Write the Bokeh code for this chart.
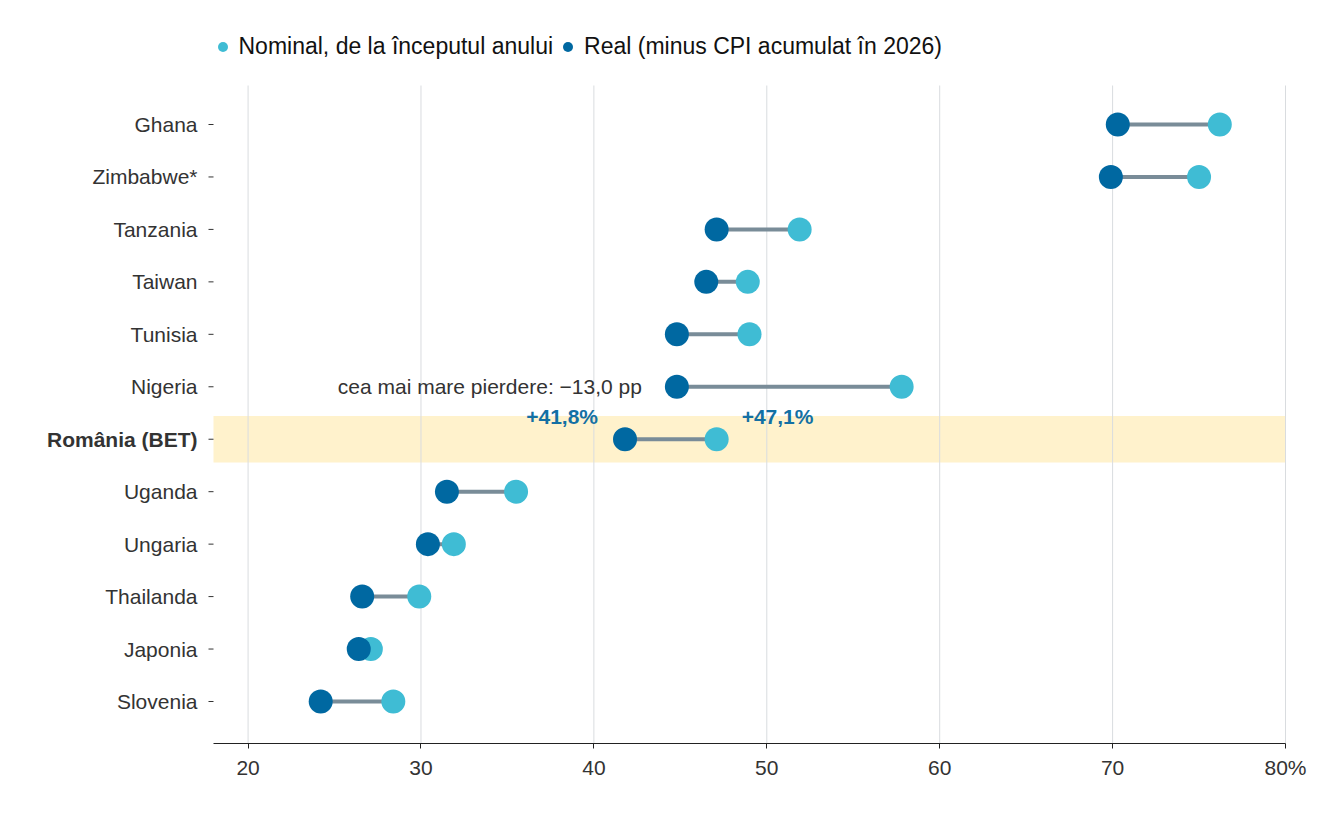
from bokeh.plotting import figure
from bokeh.models import ColumnDataSource, Legend, LegendItem, BoxAnnotation, Label, FixedTicker
from bokeh.core.properties import value
from bokeh.embed import file_html
from bokeh.resources import INLINE

countries = ["Ghana", "Zimbabwe*", "Tanzania", "Taiwan", "Tunisia", "Nigeria",
             "România (BET)", "Uganda", "Ungaria", "Thailanda", "Japonia", "Slovenia"]
nominal = [76.2, 75.0, 51.9, 48.9, 49.0, 57.8, 47.1, 35.5, 31.9, 29.9, 27.1, 28.4]
real = [70.3, 69.9, 47.1, 46.5, 44.8, 44.8, 41.8, 31.5, 30.4, 26.6, 26.4, 24.2]
x_ticks = [20, 30, 40, 50, 60, 70, 80]
highlight = "România (BET)"
loss_country = "Nigeria"
loss_label = "cea mai mare pierdere: −13,0 pp"
legend_labels = ["Nominal, de la începutul anului", "Real (minus CPI acumulat în 2026)"]

FONT = "Liberation Sans"
C_NOM = "#3fbcd4"
C_REAL = "#0068a1"
C_SEG = "#798c98"
C_TXT = "#333333"
C_PCT = "#1370a4"

W, H = 1317, 800
# layout (pixels in the figure)
FR_L, FR_R, FR_T, FR_B = 213, 1285, 85, 743   # visible plot area
XMIN, XMAX = 18, 80
n = len(countries)
ROW_PX = (701 - 124) / (n - 1)
PXU = (FR_R - FR_L) / (XMAX - XMIN)           # px per x unit
ypos = [n - 1 - i for i in range(n)]
y_lo = -(FR_B - 701) / ROW_PX
y_top_vis = (n - 1) + (124 - FR_T) / ROW_PX
y_hi = (n - 1) + 124 / ROW_PX
x_lo = XMIN - FR_L / PXU
x_hi = XMAX + (W - FR_R) / PXU

src = ColumnDataSource(dict(country=countries, nominal=nominal, real=real, y=ypos))
hi = countries.index(highlight)
norm_idx = [i for i in range(n) if i != hi]
src_lab = ColumnDataSource(dict(country=[countries[i] for i in norm_idx],
                                y=[ypos[i] for i in norm_idx],
                                x=[XMIN] * len(norm_idx)))
src_bold = ColumnDataSource(dict(country=[countries[hi]], y=[ypos[hi]], x=[XMIN]))

p = figure(width=W, height=H, output_backend="svg", toolbar_location=None,
           x_range=(x_lo, x_hi), y_range=(y_lo, y_hi), y_axis_location=None,
           min_border_left=0, min_border_right=0, min_border_top=0,
           min_border_bottom=H - FR_B)
p.outline_line_color = None
p.background_fill_color = "white"
p.grid.visible = False

# highlight band
band = BoxAnnotation(left=XMIN, right=XMAX, bottom=ypos[hi] - 0.445, top=ypos[hi] + 0.445,
                     fill_color="#fff2cc", fill_alpha=1.0, line_color=None, level="image")
p.add_layout(band)

# vertical grid lines
p.segment(x0=x_ticks, x1=x_ticks, y0=[y_lo] * len(x_ticks), y1=[y_top_vis] * len(x_ticks),
          line_color="#d9dcdf", line_width=1, level="underlay")

# y tick dashes and labels
p.segment(x0=[XMIN - 5 / PXU] * n, x1=[XMIN] * n, y0=ypos, y1=ypos, line_color=C_TXT, line_width=1)
p.text(x="x", y="y", text="country", source=src_lab, x_offset=-16, text_align="right",
       text_baseline="middle", text_font=value(FONT), text_font_size="21px", text_color=C_TXT)
p.text(x="x", y="y", text="country", source=src_bold, x_offset=-16, text_align="right",
       text_baseline="middle", text_font=value(FONT), text_font_size="21px",
       text_font_style="bold", text_color=C_TXT)

# dumbbells
p.segment(x0="real", y0="y", x1="nominal", y1="y", source=src, line_color=C_SEG, line_width=4)
r_nom = p.scatter(x="nominal", y="y", source=src, size=24, fill_color=C_NOM, line_color=None)
r_real = p.scatter(x="real", y="y", source=src, size=24, fill_color=C_REAL, line_color=None)

# x axis
p.xaxis.ticker = FixedTicker(ticks=x_ticks)
p.xaxis.bounds = (XMIN, XMAX)
p.xaxis.major_label_overrides = {80: "80%"}
p.xaxis.axis_line_color = "#222222"
p.xaxis.major_tick_line_color = "#222222"
p.xaxis.major_tick_out = 5
p.xaxis.major_tick_in = 0
p.xaxis.minor_tick_line_color = None
p.xaxis.major_label_text_font = FONT
p.xaxis.major_label_text_font_size = "21px"
p.xaxis.major_label_text_color = C_TXT
p.xaxis.major_label_standoff = 7

# annotations
li = countries.index(loss_country)
p.add_layout(Label(x=real[li], y=ypos[li], x_offset=-35, text=loss_label, text_align="right",
                   text_baseline="middle", text_font=FONT, text_font_size="21px",
                   text_color=C_TXT))
lab_dy = 23 / ROW_PX
p.add_layout(Label(x=real[hi], y=ypos[hi] + lab_dy, x_offset=-27,
                   text="+" + f"{real[hi]:.1f}".replace(".", ",") + "%", text_align="right",
                   text_baseline="middle", text_font=FONT, text_font_size="21px",
                   text_font_style="bold", text_color=C_PCT))
p.add_layout(Label(x=nominal[hi], y=ypos[hi] + lab_dy, x_offset=25,
                   text="+" + f"{nominal[hi]:.1f}".replace(".", ",") + "%", text_align="left",
                   text_baseline="middle", text_font=FONT, text_font_size="21px",
                   text_font_style="bold", text_color=C_PCT))

legend = Legend(items=[LegendItem(label=legend_labels[0], renderers=[r_nom]),
                       LegendItem(label=legend_labels[1], renderers=[r_real])],
                orientation="horizontal", location=(209.5, FR_B - 33.5 - 26),
                glyph_width=25, glyph_height=25, label_standoff=4, spacing=2,
                padding=0, margin=0, border_line_color=None, background_fill_alpha=0,
                label_text_font=FONT, label_text_font_size="23px", label_text_color="#111111")
p.add_layout(legend)

open("out.html", "w").write(file_html(p, INLINE))
